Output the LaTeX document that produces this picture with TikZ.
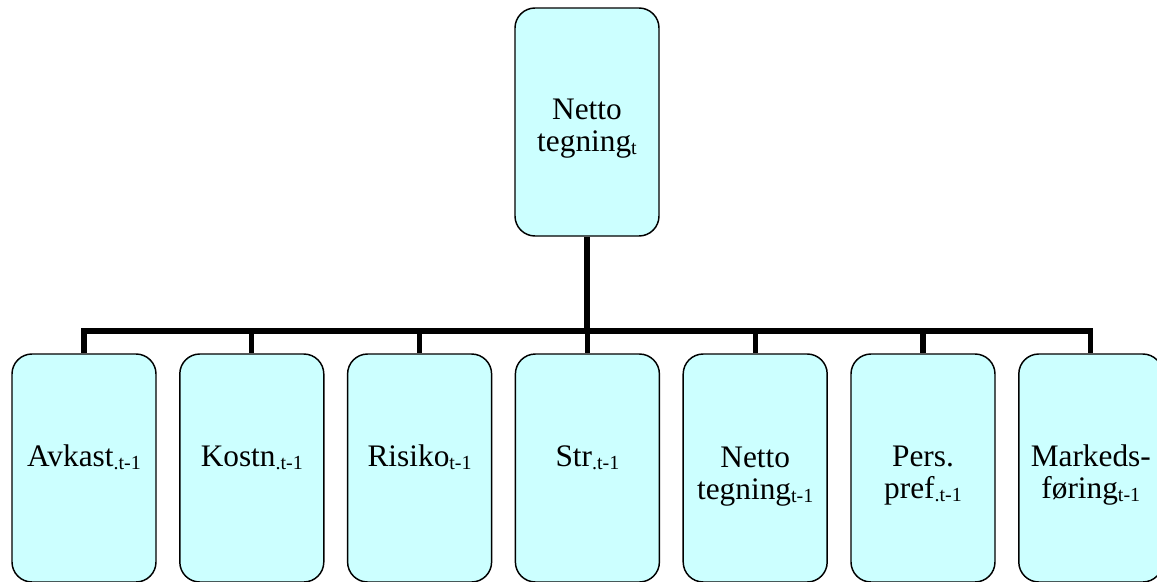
\documentclass[tikz,border=0pt]{standalone}
\usepackage{fontspec}
\setmainfont{Liberation Serif}
\definecolor{boxfill}{HTML}{CCFFFF}
\newcommand{\lowsub}[1]{\raisebox{-2.4pt}{\fontsize{15pt}{15pt}\selectfont #1}}
\newcommand{\twoline}[2]{\setlength{\tabcolsep}{0pt}\renewcommand{\arraystretch}{1}\begin{tabular}[t]{c}#1\\#2\end{tabular}}
\begin{document}
\begin{tikzpicture}[x=0.75pt,y=-0.75pt,
  card/.style={draw=black,line width=1.1pt,fill=boxfill,rounded corners=15pt,
    minimum width=108pt,minimum height=171pt,inner sep=0pt},
  lbl/.style={anchor=base,inner sep=0pt,font=\fontsize{23.5pt}{24pt}\selectfont},
  conn/.style={line width=4pt}]
\clip (0,0) rectangle (1157,582);
\fill[white] (0,0) rectangle (1157,582);
% top box
\node[card] (top) at (587,122) {};
\node[lbl] (toptxt) at (587,119) {\twoline{Netto}{tegning\lowsub{t}}};
% bottom boxes
\node[card] (c1) at (84,468) {};
\node[card] (c2) at (251.8,468) {};
\node[card] (c3) at (419.6,468) {};
\node[card] (c4) at (587.4,468) {};
\node[card] (c5) at (755.2,468) {};
\node[card] (c6) at (923,468) {};
\node[card] (c7) at (1090.8,468) {};
\node[lbl] (t1) at (84,466) {Avkast\lowsub{.t-1}};
\node[lbl] (t2) at (251.8,466) {Kostn\lowsub{.t-1}};
\node[lbl] (t3) at (419.6,466) {Risiko\lowsub{t-1}};
\node[lbl] (t4) at (587.4,466) {Str\lowsub{.t-1}};
\node[lbl] (t5) at (755.2,467) {\twoline{Netto}{tegning\lowsub{t-1}}};
\node[lbl] (t6) at (923,466) {\twoline{Pers.}{pref\lowsub{.t-1}}};
\node[lbl] (t7) at (1090.8,466) {\twoline{Markeds-}{føring\lowsub{t-1}}};
% connectors
\coordinate (bar) at (587,331);
\draw[conn] (top.south) -- (bar);
\foreach \c in {c1,c2,c3,c4,c5,c6,c7}{
  \draw[conn] (bar) -| (\c.north);
}
\end{tikzpicture}
\end{document}
